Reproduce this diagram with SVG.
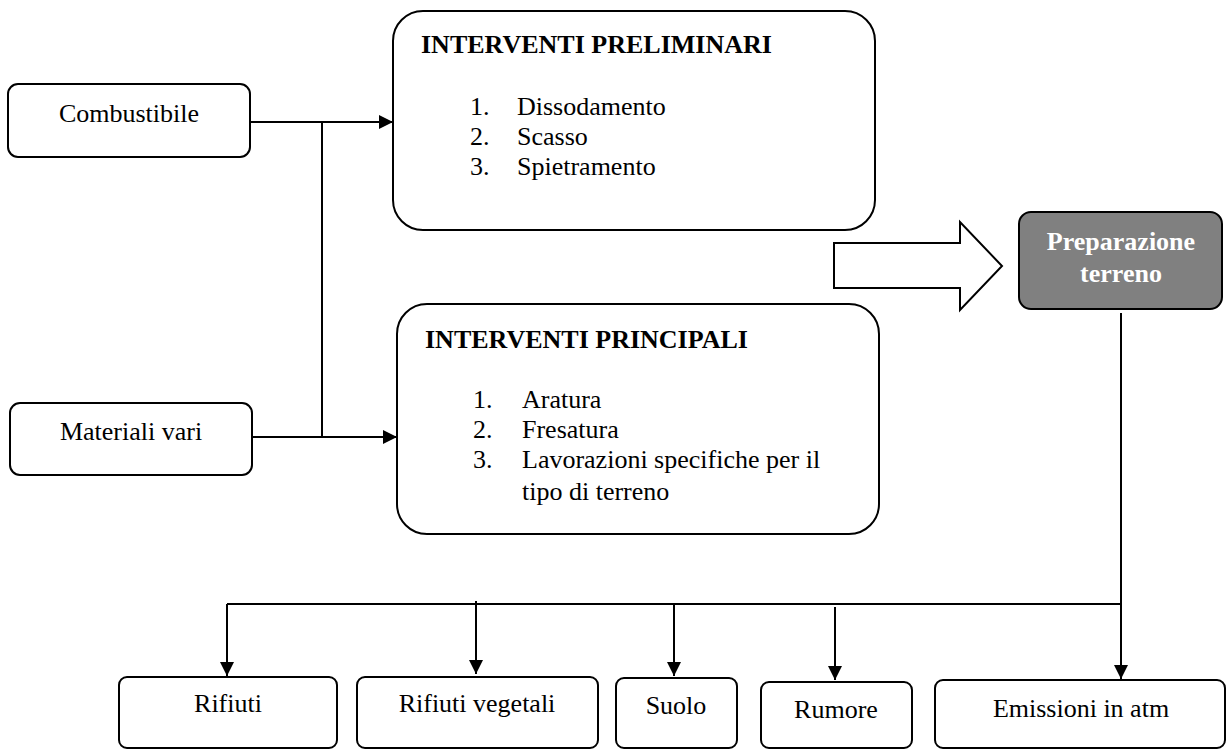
<svg xmlns="http://www.w3.org/2000/svg" width="1229" height="749" viewBox="0 0 1229 749">
<defs>
<style>
.box{fill:#fff;stroke:#000;stroke-width:2}
.dark{fill:#808080;stroke:#000;stroke-width:2}
.t{font-family:"Liberation Serif","Times New Roman",serif;font-size:26px;fill:#000}
.m{text-anchor:middle}
.b{font-weight:bold}
.w{fill:#fff}
.ln{fill:none;stroke:#000;stroke-width:2}
</style>
<marker id="ah" viewBox="0 0 14 14" refX="14" refY="7" markerWidth="14" markerHeight="14" markerUnits="userSpaceOnUse" orient="auto">
<path d="M0,0 L14,7 L0,14 Z" fill="#000"/>
</marker>
</defs>
<g id="connectors">
<path class="ln" d="M250,122 L393,122" marker-end="url(#ah)"/>
<path class="ln" d="M252,437 L397,437" marker-end="url(#ah)"/>
<path class="ln" d="M322,122 L322,437"/>
<path class="ln" d="M1121,313 L1121,604 L227,604"/>
<path class="ln" d="M227,604 L227,676" marker-end="url(#ah)"/>
<path class="ln" d="M476,601 L476,674" marker-end="url(#ah)"/>
<path class="ln" d="M674,604 L674,676" marker-end="url(#ah)"/>
<path class="ln" d="M835,607 L835,680" marker-end="url(#ah)"/>
<path class="ln" d="M1121,604 L1121,679" marker-end="url(#ah)"/>
<polygon points="834,243 960,243 960,222 1002,266 960,310 960,288 834,288" fill="#fff" stroke="#000" stroke-width="2"/>
</g>
<g id="combustibile">
<rect class="box" x="8" y="84" width="242" height="73" rx="10"/>
<text class="t m" x="129" y="122">Combustibile</text>
</g>
<g id="materiali">
<rect class="box" x="10" y="403" width="242" height="72" rx="10"/>
<text class="t m" x="131" y="440">Materiali vari</text>
</g>
<g id="preliminari">
<rect class="box" x="393" y="11" width="482" height="219" rx="30"/>
<text class="t b" x="421" y="53">INTERVENTI PRELIMINARI</text>
<text class="t" x="470" y="115">1.</text><text class="t" x="517" y="115">Dissodamento</text>
<text class="t" x="470" y="145">2.</text><text class="t" x="517" y="145">Scasso</text>
<text class="t" x="470" y="175">3.</text><text class="t" x="517" y="175">Spietramento</text>
</g>
<g id="principali">
<rect class="box" x="397" y="304" width="482" height="230" rx="30"/>
<text class="t b" x="425" y="348">INTERVENTI PRINCIPALI</text>
<text class="t" x="473" y="408">1.</text><text class="t" x="522" y="408">Aratura</text>
<text class="t" x="473" y="438">2.</text><text class="t" x="522" y="438">Fresatura</text>
<text class="t" x="473" y="468">3.</text><text class="t" x="522" y="468">Lavorazioni specifiche per il</text>
<text class="t" x="522" y="500">tipo di terreno</text>
</g>
<g id="preparazione">
<rect class="dark" x="1019" y="212" width="203" height="97" rx="12"/>
<text class="t b m w" x="1121" y="250">Preparazione</text>
<text class="t b m w" x="1121" y="282">terreno</text>
</g>
<g id="rifiuti">
<rect class="box" x="119" y="677" width="218" height="71" rx="8"/>
<text class="t m" x="228" y="712">Rifiuti</text>
</g>
<g id="rifiuti-vegetali">
<rect class="box" x="357" y="677" width="241" height="71" rx="8"/>
<text class="t m" x="477" y="712">Rifiuti vegetali</text>
</g>
<g id="suolo">
<rect class="box" x="616" y="678" width="121" height="70" rx="8"/>
<text class="t m" x="676" y="714">Suolo</text>
</g>
<g id="rumore">
<rect class="box" x="761" y="682" width="151" height="66" rx="8"/>
<text class="t m" x="836" y="718">Rumore</text>
</g>
<g id="emissioni">
<rect class="box" x="935" y="680" width="290" height="68" rx="8"/>
<text class="t m" x="1081" y="717">Emissioni in atm</text>
</g>
</svg>
